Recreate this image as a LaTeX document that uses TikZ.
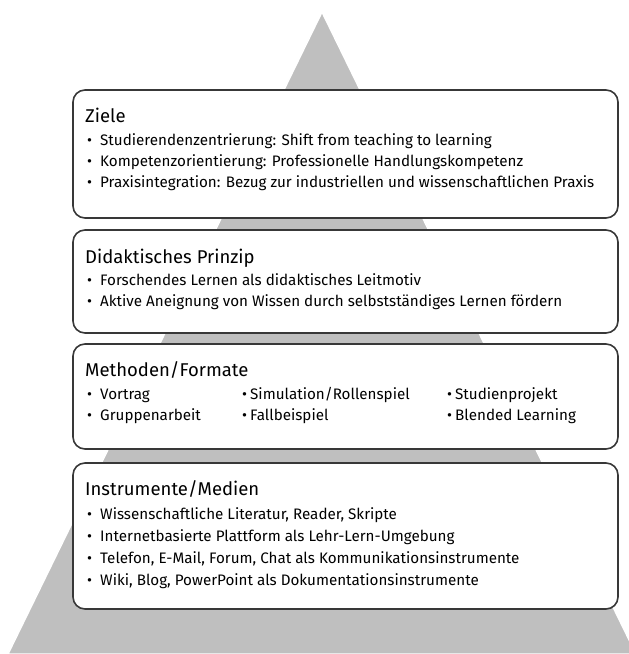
\documentclass[tikz,border=0pt]{standalone}
\usepackage{fontspec}
\setmainfont{Fira Sans}
\newcommand{\pkt}{\makebox[13pt][l]{•}}
\newcommand{\pktk}{\makebox[8pt][l]{•}}

\begin{document}
\begin{tikzpicture}[x=1pt,y=-1pt,
  feld/.style={draw=black!78,line width=1.6pt,fill=white,rounded corners=12pt,minimum width=545pt,inner sep=0pt},
  titel/.style={anchor=base west,inner sep=0pt,font=\fontsize{18.5}{20}\selectfont},
  punkt/.style={anchor=base west,inner sep=0pt,font=\fontsize{15.2}{16}\selectfont}]
\clip (0,0) rectangle (629,654);
\fill[black!25,draw=white,line width=1.5pt] (322,12) -- (8,654) -- (636,654) -- cycle;

\draw (345.5,154) node[feld,minimum height=128pt](ziele) {};
\draw (85,122) node[titel](zieletitel) {Ziele};
\draw (87,145) node[punkt](ziel1) {\pkt Studierendenzentrierung: Shift from teaching to learning};
\draw (87,166) node[punkt](ziel2) {\pkt Kompetenzorientierung: Professionelle Handlungskompetenz};
\draw (87,187) node[punkt](ziel3) {\pkt Praxisintegration: Bezug zur industriellen und wissenschaftlichen Praxis};

\draw (345.5,281.5) node[feld,minimum height=103pt](prinzip) {};
\draw (85,263) node[titel](prinziptitel) {Didaktisches Prinzip};
\draw (87,285) node[punkt](prinzip1) {\pkt Forschendes Lernen als didaktisches Leitmotiv};
\draw (87,306) node[punkt](prinzip2) {\pkt Aktive Aneignung von Wissen durch selbstständiges Lernen fördern};

\draw (345.5,396.5) node[feld,minimum height=105pt](methoden) {};
\draw (85,376) node[titel](methodentitel) {Methoden/Formate};
\draw (87,399) node[punkt](vortrag) {\pkt Vortrag};
\draw (87,420) node[punkt](gruppe) {\pkt Gruppenarbeit};
\draw (242,399) node[punkt](simulation) {\pktk Simulation/Rollenspiel};
\draw (242,420) node[punkt](fall) {\pktk Fallbeispiel};
\draw (447,399) node[punkt](projekt) {\pktk Studienprojekt};
\draw (447,420) node[punkt](blended) {\pktk Blended Learning};

\draw (345.5,536) node[feld,minimum height=146pt](medien) {};
\draw (85,495) node[titel](medientitel) {Instrumente/Medien};
\draw (87,519) node[punkt](medien1) {\pkt Wissenschaftliche Literatur, Reader, Skripte};
\draw (87,541) node[punkt](medien2) {\pkt Internetbasierte Plattform als Lehr-Lern-Umgebung};
\draw (87,563) node[punkt](medien3) {\pkt Telefon, E-Mail, Forum, Chat als Kommunikationsinstrumente};
\draw (87,585) node[punkt](medien4) {\pkt Wiki, Blog, PowerPoint als Dokumentationsinstrumente};
\end{tikzpicture}
\end{document}
